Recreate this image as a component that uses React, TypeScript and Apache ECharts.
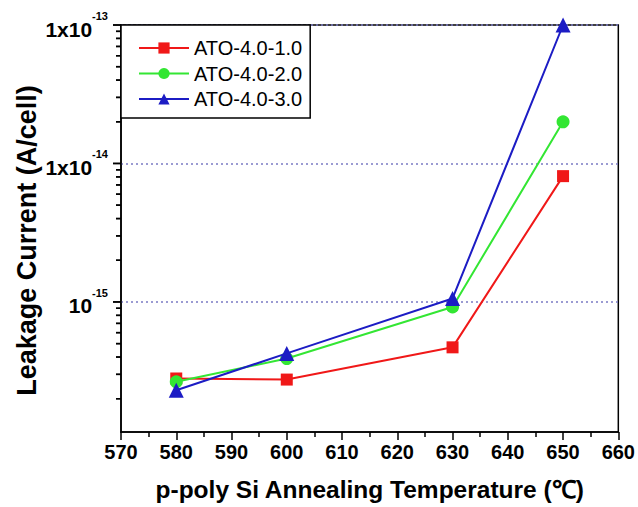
import React, { useEffect, useRef } from "react";
import * as echarts from "echarts";

const temps = [580, 600, 630, 650];
const seriesNames = ["ATO-4.0-1.0", "ATO-4.0-2.0", "ATO-4.0-3.0"];
const ato10 = [2.8e-16, 2.75e-16, 4.7e-16, 8.1e-15];
const ato20 = [2.65e-16, 3.9e-16, 9.2e-16, 2.0e-14];
const ato30 = [2.3e-16, 4.25e-16, 1.06e-15, 1.0e-13];

const xTicksMin = 570;
const xTicksMax = 660;
const xInterval = 10;
const yMin = 1.15e-16;
const yMax = 1e-13;
const yMajorExponents = [-15, -14, -13];
const yMajorPrefixes = ["10", "1x10", "1x10"];
const yMinorDecades = [-16, -15, -14];
const yMinorMultipliers = [2, 3, 4, 5, 6, 7, 8, 9];
const yTitle = "Leakage Current (A/cell)";
const xTitle = "p-poly Si Annealing Temperature (\u2103)";

const FONT = "'Liberation Sans', Arial, Helvetica, sans-serif";

export default function App() {
  const ref = useRef<HTMLDivElement>(null);
  useEffect(() => {
    if (!ref.current) return;
    const chart = echarts.init(ref.current, null, { renderer: "svg" });

    const tickVals: number[] = [];
    const tickLens: number[] = [];
    yMajorExponents.forEach((e) => {
      tickVals.push(Math.pow(10, e));
      tickLens.push(8);
    });
    yMinorDecades.forEach((e) =>
      yMinorMultipliers.forEach((k) => {
        const v = k * Math.pow(10, e);
        if (v >= yMin && v <= yMax) {
          tickVals.push(v);
          tickLens.push(5);
        }
      })
    );

    const option: any = {
      animation: false,
      backgroundColor: "#fff",
      textStyle: { fontFamily: FONT },
      grid: {
        left: 121,
        right: 18,
        top: 25,
        bottom: 75,
        show: true,
        borderColor: "#000",
        borderWidth: 1.5,
        backgroundColor: "transparent",
      },
      legend: {
        orient: "vertical",
        left: 121,
        top: 25,
        itemWidth: 50,
        itemHeight: 14,
        itemGap: 5.5,
        padding: [13, 8, 9, 17],
        borderColor: "#000",
        borderWidth: 1.5,
        backgroundColor: "#fff",
        textStyle: { fontSize: 20, color: "#000", fontFamily: FONT },
        data: seriesNames,
      },
      xAxis: {
        type: "value",
        min: xTicksMin,
        max: xTicksMax,
        interval: xInterval,
        name: xTitle,
        nameLocation: "middle",
        nameGap: 45,
        nameTextStyle: { fontSize: 24.5, fontWeight: "bold", color: "#000", fontFamily: FONT },
        axisLine: { lineStyle: { color: "#000", width: 1.5 } },
        axisTick: { length: 8, lineStyle: { color: "#000", width: 1.5 } },
        minorTick: { show: true, splitNumber: 2, length: 5, lineStyle: { color: "#000", width: 1.5 } },
        axisLabel: { fontSize: 20, fontWeight: "bold", color: "#000", margin: 10, fontFamily: FONT },
        splitLine: { show: false },
      },
      yAxis: {
        type: "log",
        logBase: 10,
        min: yMin,
        max: yMax,
        axisLine: { show: true, lineStyle: { color: "#000", width: 1.5 } },
        axisTick: { show: false },
        axisLabel: {
          margin: 13,
          formatter: (v: number) => {
            const e = Math.log10(v);
            const r = Math.round(e);
            if (Math.abs(e - r) > 1e-6) return "";
            const i = yMajorExponents.indexOf(r);
            if (i < 0) return "";
            return `{m|${yMajorPrefixes[i]}}{s|${r}}`;
          },
          rich: {
            m: { fontSize: 21, fontWeight: "bold", color: "#000", fontFamily: FONT, padding: [8, 0, 0, 0], verticalAlign: "bottom" },
            s: { fontSize: 11, fontWeight: "bold", color: "#000", fontFamily: FONT, verticalAlign: "top" },
          },
        },
        splitLine: {
          show: true,
          showMinLine: false,
          showMaxLine: false,
          lineStyle: { color: "#7b7bc4", type: [2, 3], width: 1.5 },
        },
      },
      series: [
        {
          name: seriesNames[0],
          type: "line",
          data: temps.map((t, i) => [t, ato10[i]]),
          symbol: "rect",
          symbolSize: 12,
          itemStyle: { color: "#f01818" },
          lineStyle: { color: "#f01818", width: 2 },
          z: 3,
        },
        {
          name: seriesNames[1],
          type: "line",
          data: temps.map((t, i) => [t, ato20[i]]),
          symbol: "circle",
          symbolSize: 13,
          itemStyle: { color: "#33e633" },
          lineStyle: { color: "#33e633", width: 2 },
          z: 4,
        },
        {
          name: seriesNames[2],
          type: "line",
          data: temps.map((t, i) => [t, ato30[i]]),
          symbol: "triangle",
          symbolSize: 15,
          itemStyle: { color: "#1c1cc4" },
          lineStyle: { color: "#1c1cc4", width: 2 },
          z: 5,
        },
        {
          name: "yTicks",
          type: "custom",
          coordinateSystem: "cartesian2d",
          silent: true,
          clip: false,
          z: 10,
          encode: { x: 0, y: 1 },
          data: tickVals.map((v) => [xTicksMin, v]),
          renderItem: (params: any, api: any) => {
            const v = api.value(1);
            const len = tickLens[params.dataIndex] || 5;
            const p = api.coord([xTicksMin, v]);
            return {
              type: "rect",
              shape: { x: p[0] - len, y: p[1] - 0.75, width: len, height: 1.5 },
              style: { fill: "#000" },
            };
          },
        },
      ],
    };
    chart.setOption(option);

    const top = chart.convertToPixel({ gridIndex: 0 } as any, [xTicksMin, yMax]) as any;
    const bottom = chart.convertToPixel({ gridIndex: 0 } as any, [xTicksMin, yMin]) as any;
    const midY = (top[1] + bottom[1]) / 2;
    const tickRects: any[] = tickVals.map((v, i) => {
      const p = chart.convertToPixel({ gridIndex: 0 } as any, [xTicksMin, v]) as any;
      return {
        type: "rect",
        silent: true,
        shape: { x: p[0] - tickLens[i], y: p[1] - 0.75, width: tickLens[i], height: 1.5 },
        style: { fill: "#000", stroke: "#000", lineWidth: 0.01 },
      };
    });
    chart.setOption({
      graphic: [
        {
          type: "text",
          z: 100,
          silent: true,
          x: 27,
          y: midY + 12,
          rotation: Math.PI / 2,
          style: {
            text: yTitle,
            align: "center",
            verticalAlign: "middle",
            fontSize: 27,
            fontWeight: "bold",
            fontFamily: FONT,
            fill: "#000",
          },
        },
        ...tickRects,
      ],
    });
    return () => chart.dispose();
  }, []);
  return (
    <div
      ref={ref}
      style={{ position: "fixed", left: 0, top: 0, width: 638, height: 507, background: "#fff" }}
    />
  );
}
